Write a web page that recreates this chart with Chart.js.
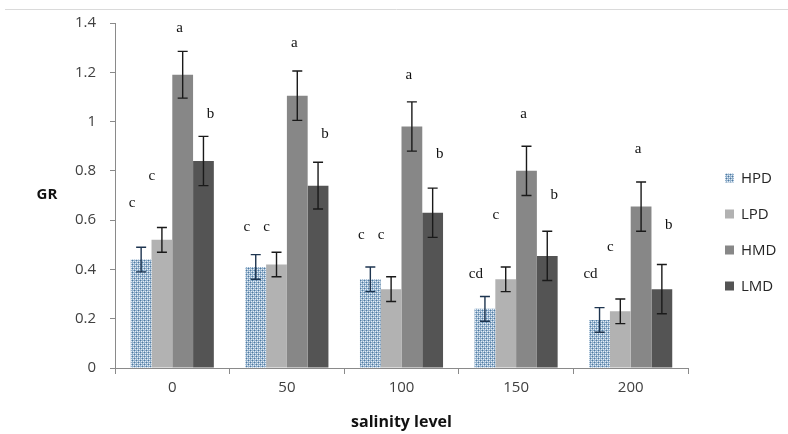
<!DOCTYPE html>
<html>
<head>
<meta charset="utf-8">
<script src="https://cdn.jsdelivr.net/npm/chart.js@4/dist/chart.umd.min.js"></script>
<style>
html,body{margin:0;padding:0;background:#fff;}
#wrap{width:788px;height:434px;position:relative;}
</style>
</head>
<body>
<div id="wrap"><canvas id="c" width="788" height="434"></canvas></div>
<script>
// ---- data ----
const categories = ['0', '50', '100', '150', '200'];
const seriesNames = ['HPD', 'LPD', 'HMD', 'LMD'];
const HPD = [0.44, 0.41, 0.36, 0.24, 0.195];
const LPD = [0.52, 0.42, 0.32, 0.36, 0.23];
const HMD = [1.19, 1.105, 0.98, 0.80, 0.655];
const LMD = [0.84, 0.74, 0.63, 0.455, 0.32];
const HPD_err = [0.05, 0.05, 0.05, 0.05, 0.05];
const LPD_err = [0.05, 0.05, 0.05, 0.05, 0.05];
const HMD_err = [0.095, 0.1, 0.1, 0.1, 0.1];
const LMD_err = [0.1, 0.095, 0.1, 0.1, 0.1];
const HPD_letters = ['c', 'c', 'c', 'cd', 'cd'];
const LPD_letters = ['c', 'c', 'c', 'c', 'c'];
const HMD_letters = ['a', 'a', 'a', 'a', 'a'];
const LMD_letters = ['b', 'b', 'b', 'b', 'b'];
const HPD_letterAt = [0.67, 0.57, 0.54, 0.38, 0.38];
const LPD_letterAt = [0.78, 0.57, 0.54, 0.62, 0.49];
const HMD_letterAt = [1.38, 1.32, 1.19, 1.03, 0.89];
const LMD_letterAt = [1.03, 0.95, 0.87, 0.70, 0.58];
const yTicks = [0, 0.2, 0.4, 0.6, 0.8, 1, 1.2, 1.4];
const yTickLabels = ['0', '0.2', '0.4', '0.6', '0.8', '1', '1.2', '1.4'];

// ---- styles ----
function makePattern() {
  const p = document.createElement('canvas');
  p.width = 4; p.height = 4;
  const g = p.getContext('2d');
  g.fillStyle = '#93b1cc'; g.fillRect(0, 0, 4, 4);
  g.fillStyle = '#4f7aa1';
  g.fillRect(0, 0, 1, 1); g.fillRect(2, 2, 1, 1);
  g.fillStyle = '#e6eef6';
  g.fillRect(1, 1, 1, 1); g.fillRect(3, 3, 1, 1);
  g.fillRect(1, 3, 1, 1); g.fillRect(3, 1, 1, 1);
  return document.getElementById('c').getContext('2d').createPattern(p, 'repeat');
}
const hpdFill = makePattern();
const fills = [hpdFill, '#b2b2b2', '#878787', '#545454'];
const letterOffsets = [-9, -10, -3, 7];
const errs = [HPD_err, LPD_err, HMD_err, LMD_err];
const letters = [HPD_letters, LPD_letters, HMD_letters, LMD_letters];
const letterAt = [HPD_letterAt, LPD_letterAt, HMD_letterAt, LMD_letterAt];
const values = [HPD, LPD, HMD, LMD];

const extras = {
  id: 'extras',
  beforeDraw(chart) {
    const ctx = chart.ctx;
    ctx.save();
    ctx.fillStyle = '#fff';
    ctx.fillRect(0, 0, chart.width, chart.height);
    ctx.strokeStyle = '#dadada';
    ctx.lineWidth = 1;
    ctx.beginPath(); ctx.moveTo(5, 9.5); ctx.lineTo(chart.width, 9.5); ctx.stroke();
    ctx.restore();
  },
  afterDatasetsDraw(chart) {
    const ctx = chart.ctx;
    const y = chart.scales.y;
    ctx.save();
    // error bars
    chart.data.datasets.forEach((ds, i) => {
      const meta = chart.getDatasetMeta(i);
      meta.data.forEach((el, j) => {
        const v = ds.data[j], e = errs[i][j];
        const t = y.getPixelForValue(v + e), b = y.getPixelForValue(v - e);
        ctx.strokeStyle = i === 0 ? '#1e3550' : '#1a1a1a';
        ctx.lineWidth = 1.4;
        ctx.beginPath();
        ctx.moveTo(el.x, t); ctx.lineTo(el.x, b);
        ctx.moveTo(el.x - 5, t); ctx.lineTo(el.x + 5, t);
        ctx.moveTo(el.x - 5, b); ctx.lineTo(el.x + 5, b);
        ctx.stroke();
      });
    });
    // significance letters
    ctx.font = '15px "Liberation Serif", serif';
    ctx.fillStyle = '#111';
    ctx.textAlign = 'center';
    ctx.textBaseline = 'middle';
    chart.data.datasets.forEach((ds, i) => {
      const meta = chart.getDatasetMeta(i);
      meta.data.forEach((el, j) => {
        ctx.fillText(letters[i][j], el.x + letterOffsets[i], y.getPixelForValue(letterAt[i][j]));
      });
    });
    // y title (horizontal)
    ctx.font = 'bold 15px "Open Sans", sans-serif';
    ctx.fillStyle = '#111';
    ctx.fillText('GR', 47, 195);
    // legend
    ctx.font = '15px "Open Sans", sans-serif';
    ctx.textAlign = 'left';
    chart.data.datasets.forEach((ds, i) => {
      const cy = 178 + i * 36;
      ctx.fillStyle = ds.backgroundColor;
      ctx.fillRect(725, cy - 4.5, 9, 9);
      ctx.fillStyle = '#262626';
      ctx.fillText(ds.label, 741, cy + 1);
    });
    ctx.restore();
  }
};

new Chart(document.getElementById('c'), {
  type: 'bar',
  data: {
    labels: categories,
    datasets: seriesNames.map((n, i) => ({
      label: n,
      data: values[i],
      backgroundColor: fills[i],
      borderWidth: 0,
      categoryPercentage: 0.725,
      barPercentage: 1.0
    }))
  },
  options: {
    responsive: false,
    animation: false,
    devicePixelRatio: 1,
    layout: { padding: { top: 17, right: 100, left: 0, bottom: 0 } },
    plugins: { legend: { display: false }, tooltip: { enabled: false } },
    scales: {
      x: {
        grid: { display: true, drawOnChartArea: false, drawTicks: true, tickLength: 6, color: '#8a8a8a', offset: true },
        border: { color: '#8a8a8a' },
        ticks: { color: '#404040', font: { family: 'Open Sans', size: 15 }, padding: 5 },
        title: { display: true, text: 'salinity level', color: '#111', font: { family: 'Open Sans', size: 16, weight: 'bold' }, padding: { top: 4, bottom: 2 } },
        afterFit(s) { s.height = 66; }
      },
      y: {
        min: 0, max: 1.4,
        afterBuildTicks(s) { s.ticks = yTicks.map(v => ({ value: v })); },
        grid: { display: true, drawOnChartArea: false, tickLength: 5, color: '#8a8a8a' },
        border: { color: '#8a8a8a' },
        ticks: {
          color: '#404040', font: { family: 'Open Sans', size: 15 }, padding: 14,
          callback: (v) => { const k = yTicks.indexOf(Math.round(v * 10) / 10); return k >= 0 ? yTickLabels[k] : ''; }
        },
        afterFit(s) { s.width = 115; }
      }
    }
  },
  plugins: [extras]
});
</script>
</body>
</html>
